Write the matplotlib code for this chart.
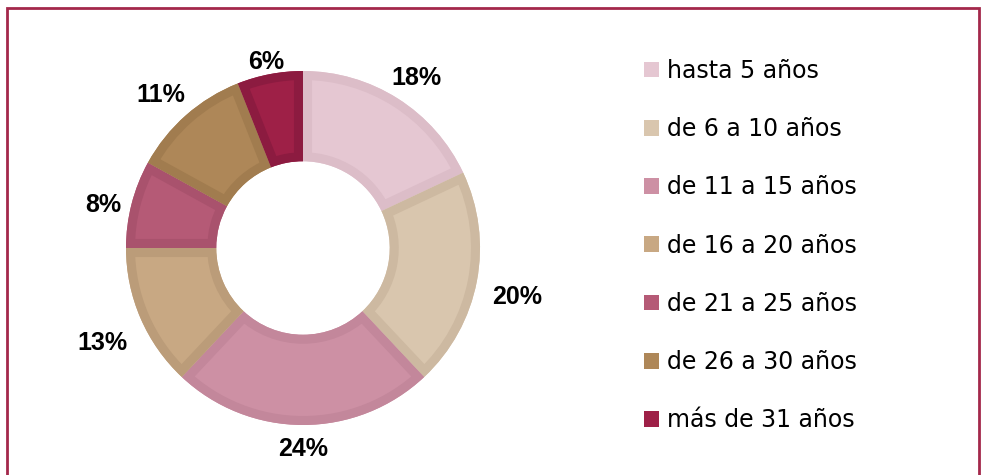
import matplotlib
matplotlib.use('Agg')
import matplotlib.pyplot as plt
from matplotlib.patches import Wedge, Rectangle, Patch
import numpy as np

# datos
categorias = ["hasta 5 años", "de 6 a 10 años", "de 11 a 15 años", "de 16 a 20 años",
              "de 21 a 25 años", "de 26 a 30 años", "más de 31 años"]
porcentajes = [18, 20, 24, 13, 8, 11, 6]
colores = ["#e5c7d2", "#d9c6ae", "#cd90a4", "#c8a883", "#b55a76", "#ae8758", "#9e2047"]
bordes = ["#dcbdc8", "#cdb9a1", "#c3879b", "#bb9c79", "#a9526d", "#a17c4f", "#8c1b40"]

W, H = 982, 475
fig = plt.figure(figsize=(W / 100, H / 100), dpi=100)
ax = fig.add_axes([0, 0, 1, 1])

cx, cy, R = 303, H - 248, 177
wedges, _ = ax.pie(porcentajes, colors=colores, startangle=90, counterclock=False,
                   radius=R, center=(cx, cy), wedgeprops=dict(width=R * 0.51, linewidth=0),
                   frame=True)
ax.set_xlim(0, W)
ax.set_ylim(0, H)
ax.set_aspect('equal')
ax.axis('off')

# borde interior más oscuro en cada sector
for w, bc in zip(wedges, bordes):
    b = Wedge(w.center, w.r, w.theta1, w.theta2, width=w.width,
              facecolor='none', edgecolor=bc, linewidth=13)
    ax.add_patch(b)
    b.set_clip_path(w)

# etiquetas de porcentaje (fuera del anillo)
total = sum(porcentajes)
acum = 0
ly = cy - 8
for p in porcentajes:
    ang = np.deg2rad(90 - (acum + p / 2) / total * 360)
    acum += p
    tw = 17 * len(f"{p}%")
    r = R + tw / 2 * 1.5 * abs(np.cos(ang)) + 16 * abs(np.sin(ang))
    ax.text(cx + r * np.cos(ang), ly + r * np.sin(ang), f"{p}%",
            ha='center', va='center', fontsize=18, fontweight='bold',
            family='Liberation Sans')

handles = [Patch(facecolor=c, edgecolor='none') for c in colores]
leg = fig.legend(handles, categorias, loc='upper left', bbox_to_anchor=(632 / W, 1 - 47 / H),
                 frameon=False, prop={'family': 'DejaVu Sans', 'size': 17},
                 handlelength=0.65, handleheight=0.65, handletextpad=0.35,
                 labelspacing=1.45, borderpad=0)

# marco
fig.add_artist(Rectangle((7 / W, -0.1), 972 / W, 1.1 - 8 / H, transform=fig.transFigure,
                         fill=False, edgecolor="#a3284b", linewidth=2))

fig.savefig("out.png", dpi=100)
